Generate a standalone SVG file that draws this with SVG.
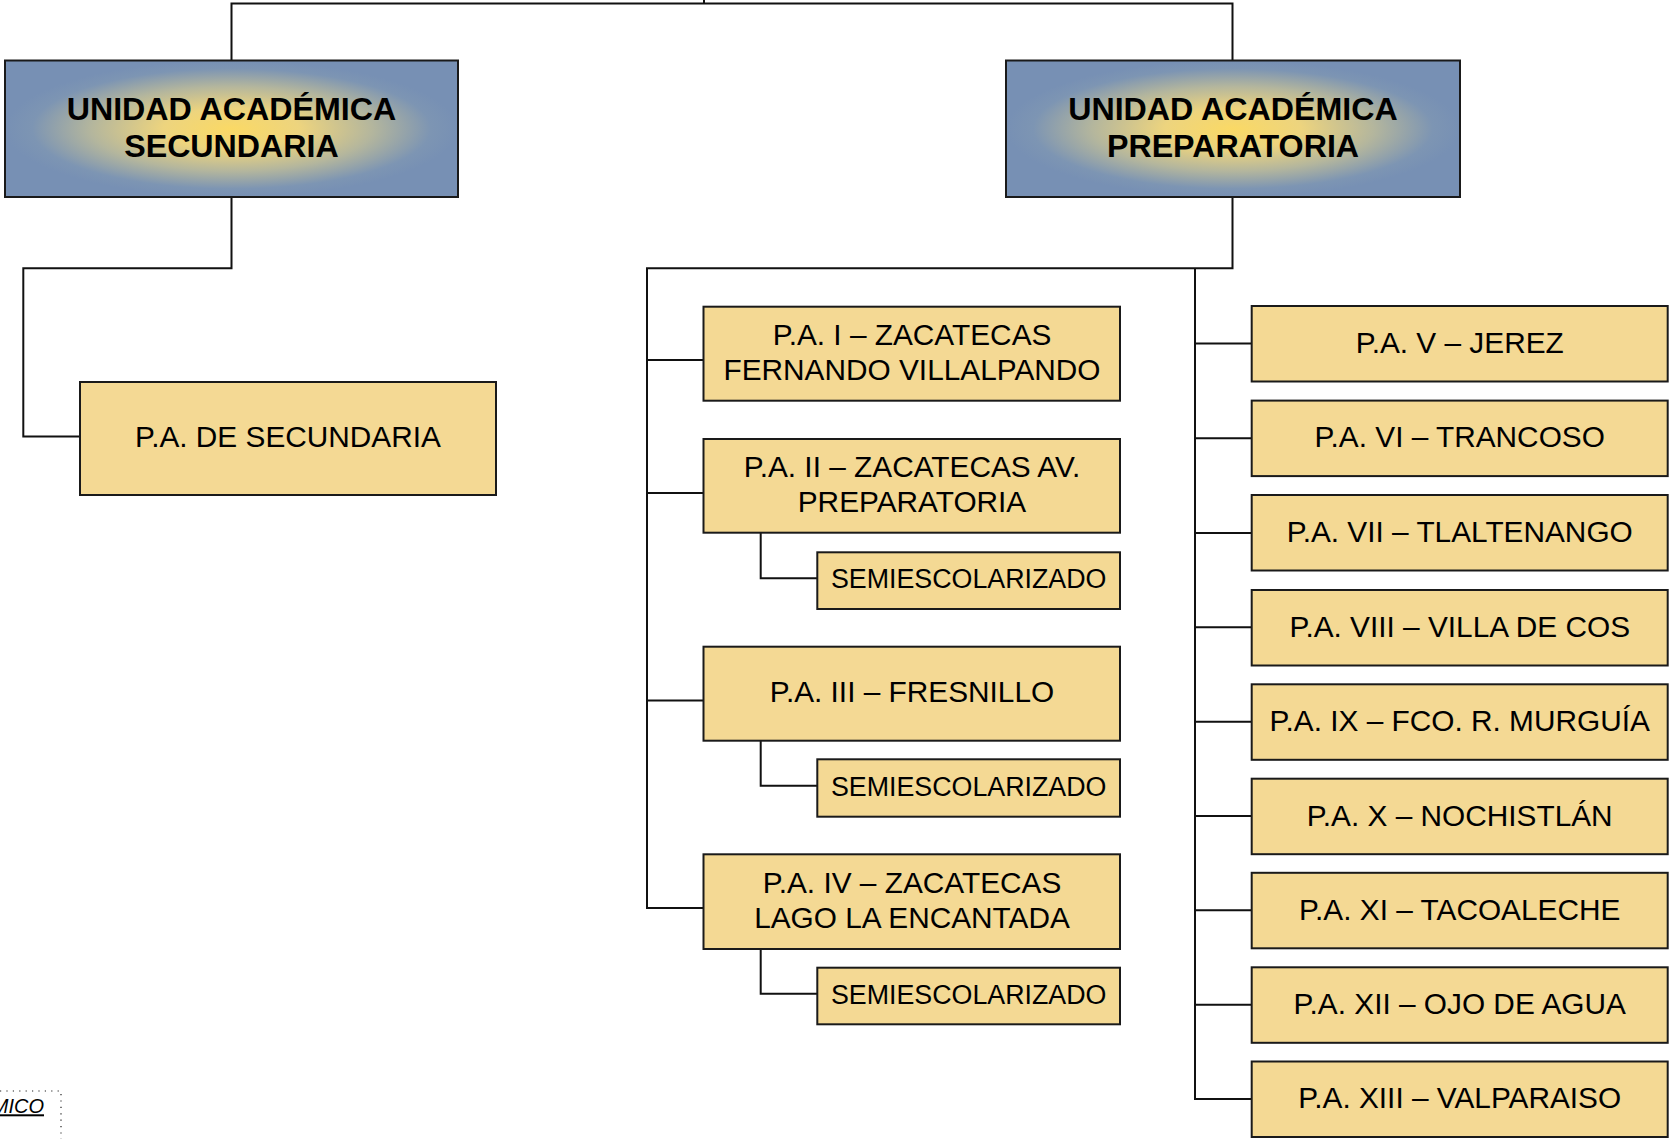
<svg xmlns="http://www.w3.org/2000/svg" width="1669" height="1139" viewBox="0 0 1669 1139">
<defs>
<radialGradient id="hdr" cx="0.5" cy="0.5" r="0.5">
<stop offset="0" stop-color="#FAD965"/>
<stop offset="0.3" stop-color="#EDD47E"/>
<stop offset="0.62" stop-color="#B4B69D"/>
<stop offset="0.88" stop-color="#7D95B3"/>
<stop offset="1" stop-color="#7790B4"/>
</radialGradient>
</defs>
<style>
.hdr{fill:url(#hdr);stroke:#1a1a1a;stroke-width:2}
.box{fill:#F4D994;stroke:#1a1a1a;stroke-width:2}
.ht{font-family:"Liberation Sans",Arial,sans-serif;font-weight:bold;font-size:32.2px;fill:#000;text-anchor:middle}
.t{font-family:"Liberation Sans",Arial,sans-serif;font-size:29.8px;fill:#000;text-anchor:middle}
.ts{font-family:"Liberation Sans",Arial,sans-serif;font-size:26.8px;fill:#000;text-anchor:middle}
.c{fill:none;stroke:#111;stroke-width:2}
</style>
<rect width="1669" height="1139" fill="#fff"/>
<g id="connectors" class="c">
<path d="M231.5 60.5 V3.5 H1232.5 V60.5"/>
<path d="M704 0 V3.5"/>
<path d="M231.5 197 V268.3 H23.3 V436.5 H80"/>
<path d="M1232.5 197 V268.3 H647 V908 H703.5"/>
<path d="M647 360 H703.5 M647 493 H703.5 M647 700.5 H703.5"/>
<path d="M1195 268.3 V1099 H1251.7"/>
<path d="M1195 343.5 H1251.7 M1195 438.3 H1251.7 M1195 533 H1251.7 M1195 627.3 H1251.7 M1195 721.7 H1251.7 M1195 816 H1251.7 M1195 910.3 H1251.7 M1195 1004.7 H1251.7"/>
<path d="M760.7 532.7 V578.3 H817.3 M760.7 740.7 V785.7 H817.3 M760.7 949 V993.7 H817.3"/>
</g>
<g id="ua-secundaria"><rect class="hdr" x="5" y="60.5" width="453" height="136.5"/><text class="ht" x="231.5" y="119.5">UNIDAD ACADÉMICA</text><text class="ht" x="231.5" y="156.8">SECUNDARIA</text></g>
<g id="ua-preparatoria"><rect class="hdr" x="1006" y="60.5" width="454" height="136.5"/><text class="ht" x="1233" y="119.5">UNIDAD ACADÉMICA</text><text class="ht" x="1233" y="156.8">PREPARATORIA</text></g>
<g id="pa-secundaria"><rect class="box" x="80" y="382" width="416" height="113"/><text class="t" x="288" y="446.5">P.A. DE SECUNDARIA</text></g>
<g id="pa-1"><rect class="box" x="703.5" y="306.7" width="416.5" height="94"/><text class="t" x="912" y="344.8">P.A. I – ZACATECAS</text><text class="t" x="912" y="379.8">FERNANDO VILLALPANDO</text></g>
<g id="pa-2"><rect class="box" x="703.5" y="439" width="416.5" height="93.7"/><text class="t" x="912" y="477">P.A. II – ZACATECAS AV.</text><text class="t" x="912" y="512">PREPARATORIA</text></g>
<g id="pa-2-semi"><rect class="box" x="817.3" y="552.3" width="302.7" height="56.7"/><text class="ts" x="968.7" y="588">SEMIESCOLARIZADO</text></g>
<g id="pa-3"><rect class="box" x="703.5" y="646.7" width="416.5" height="94"/><text class="t" x="912" y="702">P.A. III – FRESNILLO</text></g>
<g id="pa-3-semi"><rect class="box" x="817.3" y="759.3" width="302.7" height="57.4"/><text class="ts" x="968.7" y="796.3">SEMIESCOLARIZADO</text></g>
<g id="pa-4"><rect class="box" x="703.5" y="854.3" width="416.5" height="94.7"/><text class="t" x="912" y="893">P.A. IV – ZACATECAS</text><text class="t" x="912" y="928">LAGO LA ENCANTADA</text></g>
<g id="pa-4-semi"><rect class="box" x="817.3" y="967.7" width="302.7" height="56.6"/><text class="ts" x="968.7" y="1004">SEMIESCOLARIZADO</text></g>
<g id="pa-5"><rect class="box" x="1251.7" y="306" width="416" height="75.5"/><text class="t" x="1459.7" y="352.8">P.A. V – JEREZ</text></g>
<g id="pa-6"><rect class="box" x="1251.7" y="400.6" width="416" height="75.5"/><text class="t" x="1459.7" y="447.4">P.A. VI – TRANCOSO</text></g>
<g id="pa-7"><rect class="box" x="1251.7" y="495" width="416" height="75.5"/><text class="t" x="1459.7" y="541.8">P.A. VII – TLALTENANGO</text></g>
<g id="pa-8"><rect class="box" x="1251.7" y="590" width="416" height="75.5"/><text class="t" x="1459.7" y="636.8">P.A. VIII – VILLA DE COS</text></g>
<g id="pa-9"><rect class="box" x="1251.7" y="684.3" width="416" height="75.5"/><text class="t" x="1459.7" y="731.1">P.A. IX – FCO. R. MURGUÍA</text></g>
<g id="pa-10"><rect class="box" x="1251.7" y="778.7" width="416" height="75.5"/><text class="t" x="1459.7" y="825.5">P.A. X – NOCHISTLÁN</text></g>
<g id="pa-11"><rect class="box" x="1251.7" y="872.8" width="416" height="75.5"/><text class="t" x="1459.7" y="919.6">P.A. XI – TACOALECHE</text></g>
<g id="pa-12"><rect class="box" x="1251.7" y="967.3" width="416" height="75.5"/><text class="t" x="1459.7" y="1014.1">P.A. XII – OJO DE AGUA</text></g>
<g id="pa-13"><rect class="box" x="1251.7" y="1061.5" width="416" height="75.5"/><text class="t" x="1459.7" y="1108.3">P.A. XIII – VALPARAISO</text></g>
<g id="footer">
<path d="M0 1091 H61 V1139" fill="none" stroke="#222" stroke-width="1.2" stroke-dasharray="1.2 5.2"/>
<text x="44" y="1113.3" font-family="'Liberation Sans',Arial,sans-serif" font-size="20" font-style="italic" text-anchor="end" text-decoration="underline" fill="#000">MICO</text>
</g>
</svg>
